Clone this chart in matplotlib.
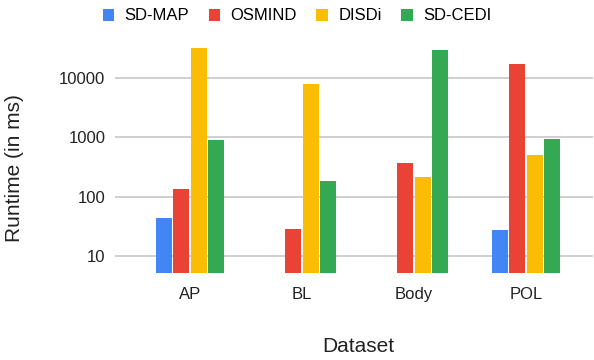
import matplotlib
matplotlib.use("Agg")
import matplotlib.pyplot as plt
from matplotlib.patches import Patch
import numpy as np

plt.rcParams['font.family'] = ['Liberation Sans', 'DejaVu Sans']

datasets = ["AP", "BL", "Body", "POL"]
series = ["SD-MAP", "OSMIND", "DISDi", "SD-CEDI"]
sd_map = [43, 5.25, 5.25, 27]
osmind = [137, 28, 376, 16900]
disdi = [32000, 7800, 213, 512]
sd_cedi = [900, 185, 30100, 920]
colors = ["#4285F4", "#EA4335", "#FBBC04", "#34A853"]
values = [sd_map, osmind, disdi, sd_cedi]

W, H = 594, 360
fig = plt.figure(figsize=(W / 100, H / 100), dpi=100)
left, right, bottom, top = 115, 593, 273.3, 42
ax = fig.add_axes([left / W, 1 - bottom / H, (right - left) / W, (bottom - top) / H])

ymin = 10 ** (1 - (bottom - 256) / 59.5)
ymax = 10 ** (4 + (78 - top) / 59.5)

x = np.arange(len(datasets))
step = 17.6 / 112
bw = 16.0 / 112
for i, (vals, c) in enumerate(zip(values, colors)):
    ax.bar(x + (i - 1.5) * step, vals, width=bw, color=c, zorder=3)

ax.set_yscale("log")
ax.set_ylim(ymin, ymax)
ax.set_xlim(-(190 - left) / 112, 3 + (right - 526) / 112)
ax.set_yticks([10, 100, 1000, 10000])
ax.set_yticklabels(["10", "100", "1000", "10000"])
ax.yaxis.set_minor_locator(matplotlib.ticker.NullLocator())
ax.set_xticks(x)
ax.set_xticklabels(datasets)
ax.tick_params(axis="both", length=0, labelsize=12, colors="#222222")
ax.tick_params(axis="y", pad=7)
ax.tick_params(axis="x", pad=10)
ax.grid(axis="y", color="#cccccc", linewidth=1.3, zorder=0)
for s in ax.spines.values():
    s.set_visible(False)

fig.text(15 / W, 1 - 168 / H, "Runtime (in ms)", rotation=90, ha="center", va="center",
         fontsize=15, color="#222222")
fig.text(358 / W, 1 - 347 / H, "Dataset", ha="center", va="center", fontsize=15, color="#222222")

handles = [Patch(facecolor=c, edgecolor="none") for c in colors]
fig.legend(handles, series, loc="center", bbox_to_anchor=(297 / W, 1 - 16 / H), ncol=4,
           frameon=False, fontsize=12, handlelength=0.7, handleheight=0.7,
           handletextpad=0.62, columnspacing=1.16, borderaxespad=0, borderpad=0)

fig.savefig("out.png", dpi=100)
